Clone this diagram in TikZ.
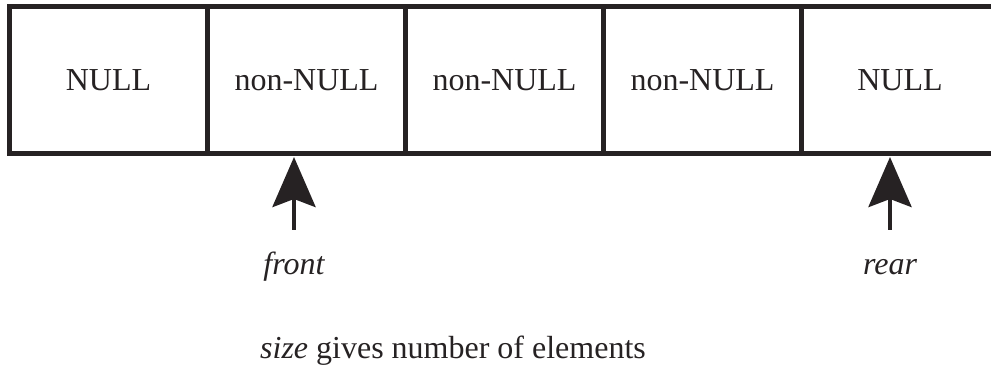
\documentclass[tikz,border=0pt]{standalone}
\usepackage{fontspec}
\setmainfont{Liberation Serif}
\usetikzlibrary{arrows.meta}
\definecolor{ink}{RGB}{38,34,35}
\begin{document}
\begin{tikzpicture}[x=1pt,y=-1pt,
  cell/.style={inner sep=0pt, minimum width=198pt, minimum height=147pt, font=\fontsize{32}{38}\selectfont, text=ink},
  edge/.style={draw=ink, line width=5pt},
  ptr/.style={draw=ink, line width=4.5pt, -{Stealth[length=50pt,width=43pt,inset=8pt]}},
  lbl/.style={font=\fontsize{32}{38}\selectfont\itshape, text=ink, anchor=base, inner sep=0pt}]
\useasboundingbox (0,0) rectangle (991,374);
% cells
\node[cell] (c1) at (108.5,80) {NULL};
\node[cell] (c2) at (306.5,80) {non-NULL};
\node[cell] (c3) at (504.5,80) {non-NULL};
\node[cell] (c4) at (702.5,80) {non-NULL};
\node[cell] (c5) at (900,80) {NULL};
% frame
\coordinate (tl) at (7,6.5);
\coordinate (tr) at (991,6.5);
\coordinate (bl) at (7,153.5);
\coordinate (br) at (991,153.5);
\draw[edge] (tl) -- (tr);
\draw[edge] (bl) -- (br);
\draw[edge] (9.5,6.5) -- (9.5,153.5);
\draw[edge] (c1.north east) ++(0,0) -- (c1.south east);
\foreach \n in {c2,c3,c4}{\draw[edge] (\n.north east) -- (\n.south east);}
% pointers
\node[lbl] (front) at (294,274) {front};
\node[lbl] (rear) at (890,274) {rear};
\coordinate (fs) at (294,230);
\coordinate (ft) at (294,157);
\coordinate (rs) at (890,230);
\coordinate (rt) at (890,157);
\draw[ptr] (fs) -- (ft);
\draw[ptr] (rs) -- (rt);
\node[anchor=base, inner sep=0pt, font=\fontsize{32}{38}\selectfont, text=ink] (size) at (453,358) {\textit{size} gives number of elements};
\end{tikzpicture}
\end{document}
